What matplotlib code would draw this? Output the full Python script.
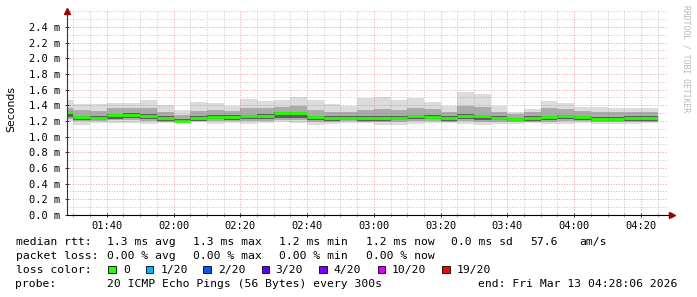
import numpy as np
import pandas as pd
import matplotlib
matplotlib.use("Agg")
import matplotlib.pyplot as plt
import matplotlib.dates as mdates
from matplotlib.transforms import Affine2D
from matplotlib.ticker import MultipleLocator, FuncFormatter, FixedLocator

# ---------------- data ----------------
step_start = "2026-03-13 01:25"          # first 5-minute step
n_steps = 36
window_start = "2026-03-13 01:28:06"
window_end = "2026-03-13 04:28:06"

rtt_median = [1.31, 1.247, 1.238, 1.273, 1.28, 1.268, 1.234, 1.204, 1.232, 1.257,
              1.254, 1.26, 1.264, 1.302, 1.298, 1.25, 1.24, 1.24, 1.232, 1.238,
              1.238, 1.26, 1.257, 1.238, 1.26, 1.26, 1.24, 1.222, 1.238, 1.25,
              1.26, 1.25, 1.225, 1.225, 1.238, 1.238]
rtt_max = [1.468, 1.423, 1.417, 1.426, 1.43, 1.468, 1.404, 1.337, 1.443, 1.426,
           1.392, 1.477, 1.459, 1.468, 1.503, 1.468, 1.417, 1.392, 1.49, 1.503,
           1.468, 1.49, 1.439, 1.395, 1.574, 1.545, 1.392, 1.319, 1.349, 1.455,
           1.426, 1.383, 1.383, 1.362, 1.37, 1.366]
rtt_min = [1.196, 1.145, 1.178, 1.178, 1.18, 1.166, 1.174, 1.174, 1.183, 1.162,
           1.178, 1.166, 1.178, 1.183, 1.17, 1.145, 1.162, 1.17, 1.17, 1.15,
           1.15, 1.16, 1.17, 1.17, 1.16, 1.15, 1.16, 1.16, 1.17, 1.16,
           1.16, 1.17, 1.16, 1.16, 1.16, 1.17]
rtt_q_hi = [1.37, 1.34, 1.33, 1.36, 1.37, 1.36, 1.32, 1.28, 1.33, 1.34,
            1.33, 1.36, 1.37, 1.38, 1.39, 1.34, 1.32, 1.32, 1.34, 1.35,
            1.34, 1.37, 1.35, 1.32, 1.39, 1.38, 1.32, 1.29, 1.31, 1.36,
            1.35, 1.33, 1.31, 1.31, 1.32, 1.32]
rtt_q_lo = [1.22, 1.20, 1.20, 1.21, 1.21, 1.20, 1.19, 1.185, 1.195, 1.20,
            1.20, 1.20, 1.20, 1.21, 1.21, 1.19, 1.19, 1.20, 1.19, 1.19,
            1.19, 1.20, 1.20, 1.19, 1.20, 1.19, 1.19, 1.185, 1.19, 1.19,
            1.20, 1.20, 1.185, 1.185, 1.19, 1.19]
rtt_core_hi = [1.33, 1.27, 1.26, 1.29, 1.30, 1.29, 1.26, 1.225, 1.26, 1.28,
               1.28, 1.28, 1.29, 1.32, 1.32, 1.27, 1.26, 1.26, 1.26, 1.26,
               1.26, 1.28, 1.28, 1.26, 1.29, 1.28, 1.26, 1.24, 1.26, 1.27,
               1.28, 1.27, 1.25, 1.25, 1.26, 1.26]
rtt_core_lo = [1.25, 1.215, 1.215, 1.23, 1.235, 1.225, 1.205, 1.19, 1.205, 1.22,
               1.215, 1.22, 1.22, 1.24, 1.235, 1.21, 1.205, 1.21, 1.205, 1.205,
               1.21, 1.22, 1.22, 1.205, 1.22, 1.215, 1.21, 1.195, 1.205, 1.21,
               1.22, 1.21, 1.195, 1.195, 1.205, 1.205]

y_ticks = [0.0, 0.2, 0.4, 0.6, 0.8, 1.0, 1.2, 1.4, 1.6, 1.8, 2.0, 2.2, 2.4]

loss_labels = ["0", "1/20", "2/20", "3/20", "4/20", "10/20", "19/20"]
loss_colors = ["#26ff00", "#00b8ff", "#0059ff", "#5e00ff", "#7e00ff", "#dd00ff", "#ff0000"]

stats_rtt = ["1.3 ms avg", "1.3 ms max", "1.2 ms min", "1.2 ms now", "0.0 ms sd", "57.6", "am/s"]
stats_loss = ["0.00 % avg", "0.00 % max", "0.00 % min", "0.00 % now"]
probe_text = "20 ICMP Echo Pings (56 Bytes) every 300s"
end_text = "end: Fri Mar 13 04:28:06 2026"

# ---------------- figure ----------------
W, H = 697, 297
fig = plt.figure(figsize=(W / 100, H / 100), dpi=100)
fig.patch.set_facecolor("white")
px = Affine2D().scale(1 / W, -1 / H).translate(0, 1) + fig.transFigure

L, R, B, T = 67, 668, 215, 11.3
ax = fig.add_axes([L / W, 1 - B / H, (R - L) / W, (B - T) / H])

edges = mdates.date2num(pd.date_range(step_start, periods=n_steps + 1, freq="5min"))

ax.stairs(rtt_max, edges, baseline=rtt_min, fill=True, color="#dcdcdc", lw=0, zorder=1)
ax.stairs(rtt_q_hi, edges, baseline=rtt_q_lo, fill=True, color="#ababab", lw=0, zorder=2)
ax.stairs(rtt_core_hi, edges, baseline=rtt_core_lo, fill=True, color="#5e5e5e", lw=0, zorder=3)
ax.hlines(rtt_median, edges[:-1], edges[1:], color=loss_colors[0], lw=2.0, zorder=4)

mono = "DejaVu Sans Mono"
ax.set_xlim(mdates.datestr2num(window_start), mdates.datestr2num(window_end))
ax.set_ylim(0, 2.6)

ax.xaxis.set_major_locator(mdates.MinuteLocator(byminute=[0, 20, 40]))
ax.xaxis.set_minor_locator(mdates.MinuteLocator(byminute=range(0, 60, 5)))
ax.xaxis.set_major_formatter(mdates.DateFormatter("%H:%M"))
ax.yaxis.set_major_locator(FixedLocator(y_ticks))
ax.yaxis.set_minor_locator(MultipleLocator(0.1))
ax.yaxis.set_major_formatter(FuncFormatter(lambda v, p: f"{v:.1f} m"))

ax.grid(which="major", color="#e06a6a", alpha=0.6, lw=0.72, linestyle=(0, (1, 1.6)), zorder=5)
ax.grid(which="minor", color="#909090", alpha=0.5, lw=0.72, linestyle=(0, (1, 1.6)), zorder=5)
ax.set_axisbelow(False)

for s in ["top", "right"]:
    ax.spines[s].set_visible(False)
ax.spines["left"].set_color("#333333")
ax.spines["bottom"].set_color("#000000")
ax.spines["left"].set_linewidth(0.8)
ax.spines["bottom"].set_linewidth(0.8)
ax.spines["left"].set_zorder(6)
ax.spines["bottom"].set_zorder(6)

ax.tick_params(axis="both", which="major", direction="inout", length=3.5, width=0.7,
               color="#333333", labelsize=7.5, labelcolor="#000000")
ax.tick_params(axis="both", which="minor", direction="inout", length=2.2, width=0.6,
               color="#999999")
ax.tick_params(axis="y", which="minor", length=0)
ax.tick_params(axis="y", which="major", pad=2.8)
ax.tick_params(axis="x", which="major", pad=2.8)
for lab in ax.get_xticklabels() + ax.get_yticklabels():
    lab.set_family(mono)

# axis extension + arrows
ax.plot([1.0, 1.006], [0, 0], transform=ax.transAxes, color="black", lw=0.8, clip_on=False, zorder=6)
ax.plot([1.007], [0], transform=ax.transAxes, marker=">", ms=4.5, color="#990000",
        mec="#990000", clip_on=False, zorder=7)
ax.plot([0], [1.0], transform=ax.transAxes, marker="^", ms=4.5, color="#990000",
        mec="#990000", clip_on=False, zorder=7)

# y label and watermark
fig.text(11, 109, "Seconds", transform=px, rotation=90, ha="center", va="center",
         fontsize=7.8, family="DejaVu Sans")
fig.text(686, 5, "RRDTOOL / TOBI OETIKER", transform=px, rotation=270, ha="center",
         va="top", fontsize=5.8, family=mono, color="#b8b8b8")

# legend block
fs = 8.2
def put(x, y, s, **kw):
    fig.text(x, y, s, transform=px, ha="left", va="baseline", fontsize=fs, family=mono, **kw)

put(15.5, 245, "median rtt:")
for x, s in zip([107, 193, 279, 365.5, 451, 530, 579], stats_rtt):
    put(x, 245, s)
put(15.5, 258.8, "packet loss:")
for x, s in zip([107, 193, 279, 365.5], stats_loss):
    put(x, 258.8, s)
put(15.5, 272.7, "loss color:")
box_x = [108.3, 145.7, 203.3, 261.7, 319.3, 377.7, 442.3]
lab_x = [123, 160.5, 218, 275.7, 333.7, 391.5, 456.5]
for bx, lx, s, c in zip(box_x, lab_x, loss_labels, loss_colors):
    fig.patches.append(plt.Rectangle((bx, 273.3), 7.5, -7.5, transform=px,
                                     facecolor=c, edgecolor="black", lw=0.6))
    put(lx, 272.7, s)
put(15.5, 286.7, "probe:")
put(107, 286.7, probe_text)
put(478, 286.7, end_text)

fig.savefig("out.png", dpi=100, facecolor="white")
